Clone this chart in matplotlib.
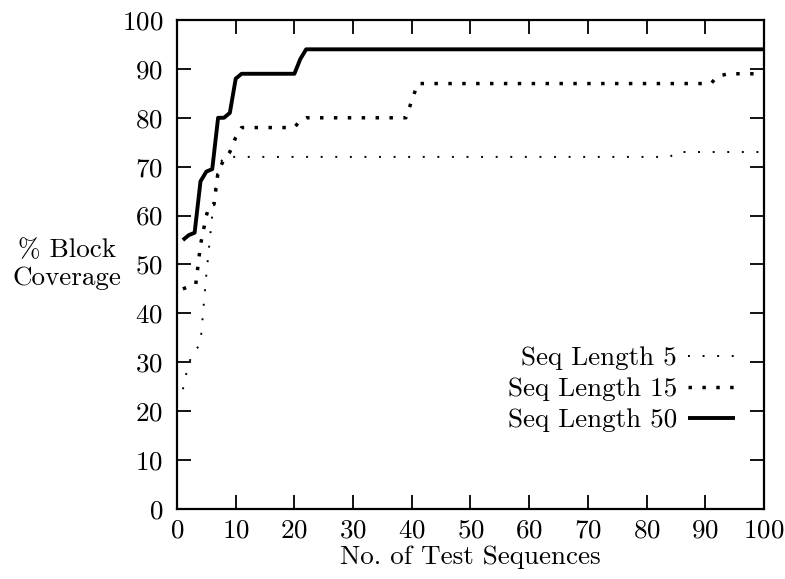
import matplotlib.pyplot as plt

plt.rcParams["font.family"] = ["cmr10"]
plt.rcParams["axes.formatter.use_mathtext"] = True
plt.rcParams["font.size"] = 19.5

# block coverage vs. number of test sequences, one curve per sequence length
len5_x = [1, 2, 3, 4, 5, 6, 7, 8, 84, 85, 100]
len5_y = [24.5, 30, 32, 34, 48, 60, 70, 72, 72, 73, 73]

len15_x = [1, 2, 3.2, 4, 5, 5.5, 6.3, 7, 8, 9, 10, 11, 20, 21, 22, 39, 40, 41, 91, 92, 94, 100]
len15_y = [45, 45.5, 46, 54, 60, 62, 62.3, 69, 71.5, 73, 76, 78, 78, 79.5, 80, 80, 83.5, 87, 87, 88.5, 89, 89]

len50_x = [1, 2, 3, 4, 5, 6, 7, 8, 9, 10, 11, 20, 21, 22, 100]
len50_y = [55, 56, 56.5, 67, 69, 69.5, 80, 80, 81, 88, 89, 89, 92, 94, 94]

labels = ["Seq Length 5", "Seq Length 15", "Seq Length 50"]

fig = plt.figure(figsize=(7.85, 5.79), dpi=100)
ax = fig.add_axes([0.2255, 0.1209, 0.7477, 0.8446])

ax.plot(len5_x, len5_y, color="black", lw=1.4, linestyle=(0, (1, 6.5)),
        dash_capstyle="butt", label=labels[0])
ax.plot(len15_x, len15_y, color="black", lw=2.5, linestyle=(0, (1, 3.0)),
        dash_capstyle="butt", label=labels[1])
ax.plot(len50_x, len50_y, color="black", lw=2.8, solid_capstyle="butt",
        label=labels[2])

ax.set_xlim(0, 100)
ax.set_ylim(0, 100)
ax.set_xticks(range(0, 101, 10))
ax.set_yticks(range(0, 101, 10))
ax.tick_params(direction="in", length=10, width=1.3, top=True, right=True)
ax.tick_params(axis="x", pad=7)
ax.tick_params(axis="y", pad=10)
for sp in ax.spines.values():
    sp.set_linewidth(1.6)

ax.set_xlabel("No. of Test Sequences", labelpad=2)
ax.set_ylabel("% Block\nCoverage", rotation=0, ha="center", va="center",
              multialignment="center", linespacing=1.2)
ax.yaxis.set_label_coords(-0.187, 0.5)

ax.legend(loc="center right", bbox_to_anchor=(0.951, 0.245), frameon=False,
          markerfirst=False, handlelength=1.75, handletextpad=0.4,
          labelspacing=0.26, borderpad=0, borderaxespad=0)

fig.savefig("out.png", dpi=100)
